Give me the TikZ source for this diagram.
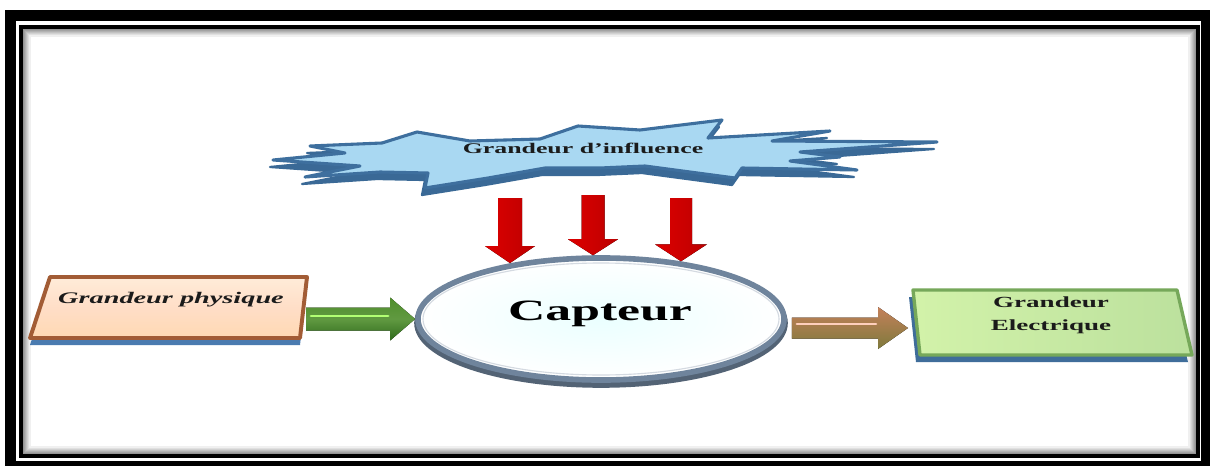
\documentclass[tikz,border=0pt]{standalone}
\usepackage{fontspec}
\setmainfont{Liberation Serif}
\usepackage{graphicx}
\usetikzlibrary{calc,shapes.geometric}

% colours picked from the figure
\definecolor{inflfill}{HTML}{A9D8F2}
\definecolor{inflline}{HTML}{3E6F9E}
\definecolor{inflside}{HTML}{3A6996}
\definecolor{physline}{HTML}{A25C35}
\definecolor{physshadow}{HTML}{4A7BB0}
\definecolor{elecline}{HTML}{76A85A}
\definecolor{elecshadow}{HTML}{3F6D9A}
\definecolor{sensorline}{HTML}{6F849C}
\definecolor{labelink}{HTML}{1B1B1B}
\definecolor{greendark}{HTML}{2F6A1C}
\definecolor{greenmid}{HTML}{4F8E2C}
\definecolor{coppertop}{HTML}{C4805A}
\definecolor{coppermid}{HTML}{E8AE88}
\definecolor{copperlow}{HTML}{7E7A3C}
\definecolor{redlight}{HTML}{FF3A3A}
\definecolor{reddark}{HTML}{DD0000}

% text in the figure is stretched sideways
\newcommand{\widetext}[1]{\scalebox{1.75}[1]{#1}}

% block arrow pointing right: style, from, to, shaft half, head half, head length
\newcommand{\blockright}[6]{%
  \fill[#1] ($(#2|-#3)+(0,#4)$) -- ($(#3)+(-#6,#4)$) -- ($(#3)+(-#6,#5)$) -- (#3)
    -- ($(#3)+(-#6,-#5)$) -- ($(#3)+(-#6,-#4)$) -- ($(#2|-#3)+(0,-#4)$) -- cycle;}
% block arrow pointing down: style, from, to, shaft half, head half, head length
\newcommand{\blockdown}[6]{%
  \fill[#1] ($(#2)+(-#4,0)$) -- ($(#2|-#3)+(-#4,-#6)$) -- ($(#2|-#3)+(-#5,-#6)$) -- (#2|-#3)
    -- ($(#2|-#3)+(#5,-#6)$) -- ($(#2|-#3)+(#4,-#6)$) -- ($(#2)+(#4,0)$) -- cycle;}

% outline of the influence star
\newcommand{\inflstar}[1]{%
  \path[#1] (273,160) -- (345,153) -- (310,146) -- (382,143) -- (417,132) -- (470,141)
    -- (540,139) -- (578,126) -- (640,130) -- (722,120) -- (708,138) -- (830,131)
    -- (772,141) -- (937,142) -- (800,152) -- (840,157) -- (790,161) -- (857,170)
    -- (742,168) -- (735,178) -- (645,166) -- (600,168) -- (545,168) -- (488,178)
    -- (425,188) -- (428,173) -- (380,172) -- (305,177) -- (360,166) -- cycle;}

\tikzset{
  labeltext/.style={text=labelink, inner sep=0pt, font=\fontsize{11}{17}\selectfont\bfseries},
  sensor/.style={ellipse, draw=sensorline, line width=4pt, minimum width=9.15cm,
    minimum height=3.05cm, inner color=cyan!8!white, outer color=white},
  physbox/.style={draw=physline, line width=2.8pt, line join=round,
    top color=orange!15!white, bottom color=orange!30!white, middle color=red!18!orange!22!white},
  elecbox/.style={draw=elecline, line width=2.4pt, line join=round,
    left color=green!25!lime!30!white!95!black, right color=green!40!lime!30!white!88!black},
  greenarrow/.style={top color=greenmid, bottom color=greendark, middle color=greenmid!90!white},
  greenshine/.style={draw=green!40!lime!55!white, line width=2pt, line cap=round},
  copperarrow/.style={top color=coppertop, middle color=coppermid, bottom color=copperlow},
  coppershine/.style={draw=orange!25!pink!60!white, line width=1.8pt, line cap=round},
  redarrow/.style={left color=reddark, middle color=redlight, right color=reddark!85!black}
}

\begin{document}
\begin{tikzpicture}[x=0.025cm, y=-0.025cm]
  \useasboundingbox (0,0) rectangle (1210,466);

  % --- Frame ---
  \fill[black] (5,10) rectangle (1210,466);
  \fill[white] (16,21) rectangle (1201,461);
  \foreach \k in {1,...,9} {
    \pgfmathtruncatemacro\pct{60-6*\k}
    \draw[black!\pct, line width=0.75pt] (21+\k,27+\k) rectangle (1198-\k,456-\k);
  }
  \draw[black, line width=2.8pt] (21,27) rectangle (1198,456);

  % --- Grandeur d'influence ---
  \inflstar{fill=inflside, draw=inflside, line width=1.6pt, line join=round, shift={(-3,7)}}
  \inflstar{fill=inflfill, draw=inflline, line width=2.2pt, line join=round}
  \node[labeltext, anchor=base, font=\fontsize{10.5}{13}\selectfont\bfseries] (infl) at (583,153) {\widetext{Grandeur d’influence}};

  % --- Capteur ---
  \draw[sensorline!75!black, line width=4pt] (601,323) ellipse (184 and 62);
  \node[sensor] (capteur) at (601,319) {};
  \draw[white!70!sensorline, line width=0.8pt] (601,319) ellipse (178 and 56);
  \node[labeltext, anchor=base, font=\fontsize{21}{25}\selectfont\bfseries, text=black] (capteurtext) at (600,320) {\widetext{Capteur}};

  % --- Grandeur physique ---
  \path[fill=physshadow, shift={(0,7)}] (50,277) -- (307,277) -- (300,338) -- (30,338) -- cycle;
  \path[physbox] (50,277) -- (307,277) -- (300,338) -- (30,338) -- cycle;
  \node[labeltext, anchor=base, font=\fontsize{11.5}{14}\selectfont\bfseries\itshape] (phys) at (171,303) {\widetext{Grandeur physique}};
  \coordinate (physR) at (306,322);

  % --- Grandeur Electrique ---
  \path[fill=elecshadow, shift={(-4,7)}] (913,290) -- (1177,290) -- (1192,355) -- (920,355) -- cycle;
  \path[elecbox] (913,290) -- (1177,290) -- (1192,355) -- (920,355) -- cycle;
  \node[labeltext, anchor=north, align=center] (elec) at (1051,296) {\widetext{Grandeur}\\\widetext{Electrique}};
  \coordinate (elecL) at (908,328);

  % --- arrows ---
  \blockright{greenarrow}{physR}{capteur.west}{11.5}{21.5}{25}
  \draw[greenshine] ($(physR|-capteur.west)+(5,-3)$) -- ($(capteur.west)+(-27,-3)$);

  \coordinate (capR) at ($(capteur.east)+(5,0)$);
  \blockright{copperarrow}{capR}{elecL}{10.5}{21}{30}
  \draw[coppershine] ($(capR|-elecL)+(5,-4)$) -- ($(elecL)+(-32,-4)$);

  \coordinate (down1) at (510,198);
  \coordinate (down2) at (593,195);
  \coordinate (down3) at (681,198);
  \blockdown{redarrow}{down1}{capteur.148}{12}{25}{17}
  \blockdown{redarrow}{down2}{capteur.97}{11.5}{25}{16}
  \blockdown{redarrow}{down3}{capteur.36}{11}{26}{17}

\end{tikzpicture}
\end{document}
